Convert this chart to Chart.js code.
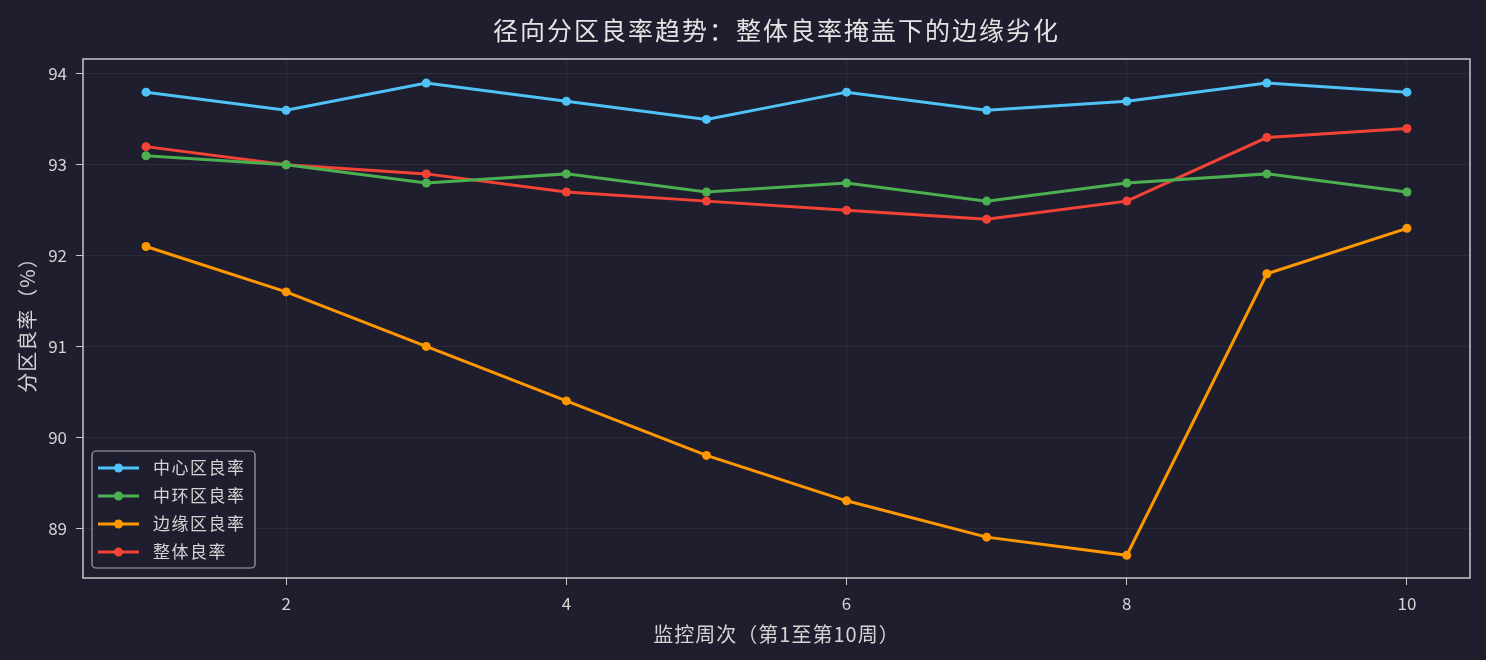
<!DOCTYPE html>
<html>
<head>
<meta charset="utf-8">
<script src="https://cdn.jsdelivr.net/npm/chart.js@4"></script>
<style>
  html, body { margin: 0; padding: 0; background: #1e1e2e; }
  canvas { display: block; }
</style>
</head>
<body>
<canvas id="myChart" width="1486" height="660"></canvas>
<script>
var weeks = [1, 2, 3, 4, 5, 6, 7, 8, 9, 10];
var centerYield = [93.8, 93.6, 93.9, 93.7, 93.5, 93.8, 93.6, 93.7, 93.9, 93.8];
var middleYield = [93.1, 93.0, 92.8, 92.9, 92.7, 92.8, 92.6, 92.8, 92.9, 92.7];
var edgeYield = [92.1, 91.6, 91.0, 90.4, 89.8, 89.3, 88.9, 88.7, 91.8, 92.3];
var overallYield = [93.2, 93.0, 92.9, 92.7, 92.6, 92.5, 92.4, 92.6, 93.3, 93.4];
var seriesNames = ['中心区良率', '中环区良率', '边缘区良率', '整体良率'];
var xTicks = [2, 4, 6, 8, 10];
var yTicks = [89, 90, 91, 92, 93, 94];

var titleText = '径向分区良率趋势：整体良率掩盖下的边缘劣化';
var xTitle = '监控周次（第1至第10周）';
var yTitle = '分区良率（%）';

var font = '"Noto Sans CJK SC", "DejaVu Sans", sans-serif';
var textColor = '#d4d4d4';
var spineColor = '#c8c8c8';

function points(vals) {
    return vals.map(function (v, i) { return { x: weeks[i], y: v }; });
}

function line(label, vals, color) {
    return {
        label: label,
        data: points(vals),
        borderColor: color,
        backgroundColor: color,
        borderWidth: 3,
        pointRadius: 4.5,
        pointHoverRadius: 4.5,
        pointBorderWidth: 0,
        tension: 0
    };
}

var frame = {
    id: 'frame',
    afterDraw: function (chart) {
        var c = chart.ctx, a = chart.chartArea;
        c.save();
        // spines
        c.strokeStyle = spineColor;
        c.lineWidth = 1.5;
        c.strokeRect(a.left, a.top, a.right - a.left, a.bottom - a.top);

        // title
        c.fillStyle = '#e4e4e4';
        c.font = '25px ' + font;
        c.letterSpacing = '2px';
        c.textAlign = 'center';
        c.textBaseline = 'middle';
        c.fillText(titleText, (a.left + a.right) / 2, 30);

        // axis titles
        c.font = '20px ' + font;
        c.letterSpacing = '1px';
        c.fillStyle = textColor;
        c.fillText(xTitle, (a.left + a.right) / 2, 634);
        c.translate(27, 320);
        c.rotate(-Math.PI / 2);
        c.fillText(yTitle, 0, 0);
        c.restore();

        // legend
        c.save();
        var bx = 92, by = 451, bw = 163, bh = 117;
        c.fillStyle = 'rgba(30,30,46,0.85)';
        c.strokeStyle = '#a8a8a8';
        c.lineWidth = 1.2;
        c.beginPath();
        c.roundRect(bx, by, bw, bh, 4);
        c.fill();
        c.stroke();
        c.font = '17px ' + font;
        c.letterSpacing = '1.5px';
        c.textAlign = 'left';
        c.textBaseline = 'middle';
        chart.data.datasets.forEach(function (ds, i) {
            var y = 468 + i * 28;
            c.strokeStyle = ds.borderColor;
            c.lineWidth = 3;
            c.beginPath();
            c.moveTo(98, y);
            c.lineTo(139, y);
            c.stroke();
            c.fillStyle = ds.borderColor;
            c.beginPath();
            c.arc(118.5, y, 4.5, 0, Math.PI * 2);
            c.fill();
            c.fillStyle = textColor;
            c.fillText(ds.label, 153, y);
        });
        c.restore();
    }
};

var ctx = document.getElementById('myChart').getContext('2d');
var myChart = new Chart(ctx, {
    type: 'line',
    data: {
        datasets: [
            line(seriesNames[0], centerYield, '#4fc3f7'),
            line(seriesNames[1], middleYield, '#4caf50'),
            line(seriesNames[2], edgeYield, '#ff9800'),
            line(seriesNames[3], overallYield, '#f44336')
        ]
    },
    options: {
        responsive: false,
        devicePixelRatio: 1,
        animation: false,
        layout: { padding: { left: 0, right: 16, top: 59, bottom: 0 } },
        plugins: {
            legend: { display: false },
            title: { display: false },
            tooltip: { enabled: false }
        },
        scales: {
            x: {
                type: 'linear',
                min: 0.55,
                max: 10.45,
                afterFit: function (s) { s.height = 82; },
                afterBuildTicks: function (s) {
                    s.ticks = xTicks.map(function (v) { return { value: v }; });
                },
                grid: {
                    color: 'rgba(255,255,255,0.06)',
                    tickColor: spineColor,
                    tickLength: 7
                },
                border: { display: false },
                ticks: {
                    color: textColor,
                    padding: 8,
                    maxRotation: 0,
                    font: { family: font, size: 17 }
                }
            },
            y: {
                min: 88.45,
                max: 94.165,
                afterFit: function (s) { s.width = 83; },
                afterBuildTicks: function (s) {
                    s.ticks = yTicks.map(function (v) { return { value: v }; });
                },
                grid: {
                    color: 'rgba(255,255,255,0.06)',
                    tickColor: spineColor,
                    tickLength: 7
                },
                border: { display: false },
                ticks: {
                    color: textColor,
                    padding: 9,
                    font: { family: font, size: 17 }
                }
            }
        }
    },
    plugins: [frame]
});
</script>
</body>
</html>
